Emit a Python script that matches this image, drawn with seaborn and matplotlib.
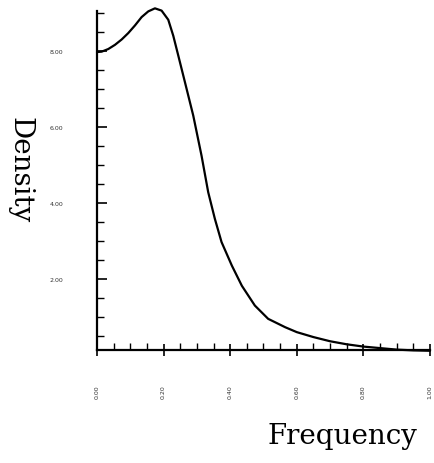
import matplotlib
matplotlib.use("Agg")
import matplotlib.pyplot as plt
from matplotlib.ticker import MultipleLocator, FixedLocator
import seaborn as sns
import pandas as pd

frequency = [0.000, 0.014, 0.034, 0.054, 0.074, 0.094, 0.114, 0.134, 0.154, 0.174,
             0.194, 0.214, 0.229, 0.244, 0.264, 0.289, 0.314, 0.334, 0.354, 0.374,
             0.405, 0.435, 0.474, 0.514, 0.565, 0.600, 0.650, 0.700, 0.750, 0.800,
             0.850, 0.900, 0.950, 1.000]
density = [7.97, 7.98, 8.05, 8.16, 8.30, 8.47, 8.67, 8.89, 9.04, 9.12,
           9.06, 8.82, 8.40, 7.88, 7.18, 6.30, 5.24, 4.28, 3.58, 2.97,
           2.35, 1.82, 1.30, 0.95, 0.73, 0.60, 0.47, 0.36, 0.28, 0.22,
           0.18, 0.14, 0.12, 0.11]

x_ticks = [0.0, 0.2, 0.4, 0.6, 0.8, 1.0]
x_labels = ["0.00", "0.20", "0.40", "0.60", "0.80", "1.00"]
y_ticks = [2.0, 4.0, 6.0, 8.0]
y_labels = ["2.00", "4.00", "6.00", "8.00"]

df = pd.DataFrame({"Frequency": frequency, "Density": density})

sns.set_style("ticks")
plt.rcParams["font.family"] = ["DejaVu Sans"]

fig = plt.figure(figsize=(4.35, 4.64), dpi=100)
ax = fig.add_axes([97 / 435, 1 - 351 / 464, 333 / 435, 339 / 464])

sns.lineplot(data=df, x="Frequency", y="Density", ax=ax, color="black",
             linewidth=1.6, clip_on=False)

ax.set_xlim(0, 1.0)
ax.set_ylim(0.13, 9.05)
for s in ["top", "right"]:
    ax.spines[s].set_visible(False)
for s in ["left", "bottom"]:
    ax.spines[s].set_linewidth(1.6)
    ax.spines[s].set_color("black")

ax.xaxis.set_major_locator(FixedLocator(x_ticks))
ax.set_xticklabels(x_labels, rotation=90, fontsize=4.5, color="#333333")
ax.xaxis.set_minor_locator(MultipleLocator(0.05))
ax.yaxis.set_major_locator(FixedLocator(y_ticks))
ax.set_yticklabels(y_labels, fontsize=4.5, color="#333333")
ax.yaxis.set_minor_locator(MultipleLocator(0.5))

ax.tick_params(axis="x", which="major", direction="inout", length=9, width=1.2,
               pad=20, color="black")
ax.tick_params(axis="x", which="minor", direction="in", length=5, width=1.0, color="black")
ax.tick_params(axis="y", which="major", direction="in", length=7, width=1.2,
               pad=24, color="black")
ax.tick_params(axis="y", which="minor", direction="in", length=5, width=1.0, color="black")

ax.set_xlabel("")
ax.set_ylabel("")
fig.text(342 / 435, 1 - 437 / 464, "Frequency", fontsize=20, family="DejaVu Serif",
         ha="center", va="center", color="black")
fig.text(20 / 435, 1 - 170 / 464, "Density", fontsize=20, family="DejaVu Serif",
         ha="center", va="center", rotation=270, color="black")

fig.savefig("out.png", dpi=100, facecolor="white")
